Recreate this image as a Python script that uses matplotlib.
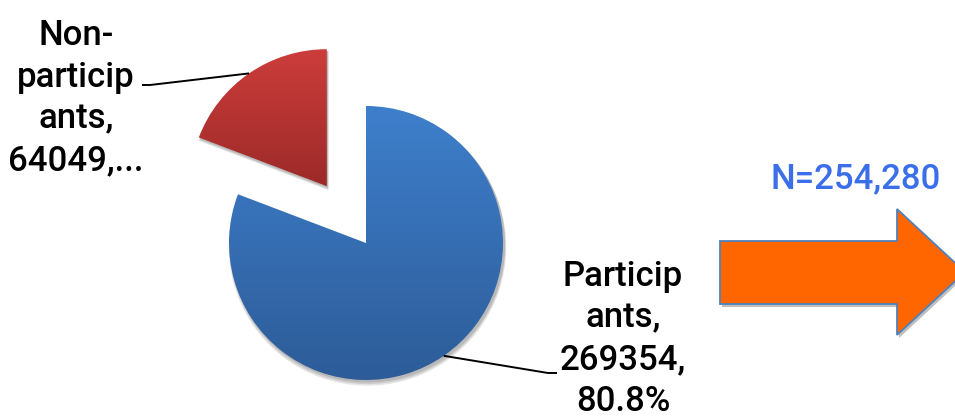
import numpy as np
import matplotlib
matplotlib.use("Agg")
import matplotlib.pyplot as plt
from matplotlib.colors import LinearSegmentedColormap
from matplotlib.patches import Polygon, Wedge

# --- data ---------------------------------------------------------------
categories = ["Non-participants", "Participants"]
counts = [64049, 269354]
total_label = "N=254,280"

total = sum(counts)
pcts = [100.0 * c / total for c in counts]

# Wrapped data labels (word-wrapped the way the chart tool breaks them)
label_texts = [
    "Non-\nparticip\nants,\n{:d},...".format(counts[0]),
    "Particip\nants,\n{:d},\n{:.1f}%".format(counts[1], pcts[1]),
]

# --- styling --------------------------------------------------------------
W, H = 955, 419
font = ["Roboto", "DejaVu Sans"]
grad_colors = [("#9c2a28", "#cc3d3b"), ("#2d5c98", "#3e7fcc")]

fig = plt.figure(figsize=(W / 100, H / 100), dpi=100)
ax = fig.add_axes([0, 0, 1, 1])

center = (366, 176)
radius = 137
wedges, _ = ax.pie(counts, startangle=90, counterclock=True, radius=radius,
                   center=center, explode=[69, 0],
                   wedgeprops=dict(linewidth=0))

for w, (dark, light) in zip(wedges, grad_colors):
    cx, cy = w.center
    # soft drop shadow
    for k, a in enumerate([0.10, 0.10, 0.10]):
        sh = Wedge((cx + 1.5, cy - 2 - k), w.r + 0.5 + k * 0.6, w.theta1, w.theta2,
                   facecolor="#000000", alpha=a, linewidth=0, zorder=0.5)
        ax.add_patch(sh)
    w.set_facecolor("none")
    w.set_zorder(2)
    ext = w.get_path().get_extents()
    cmap = LinearSegmentedColormap.from_list("g", [dark, light])
    grad = np.linspace(0, 1, 256).reshape(-1, 1)
    im = ax.imshow(grad, extent=[ext.x0, ext.x1, ext.y0, ext.y1], origin="lower",
                   cmap=cmap, aspect="auto", zorder=1.5, interpolation="bilinear")
    im.set_clip_path(w)

# leader lines from the wedge mid-angles to the labels
label_pos = [(76, 321), (623, 80)]
line_ends = [[(150, 334), (142, 334)], [(548, 46), (557, 46)]]
for w, (tx, ty), ends, txt in zip(wedges, label_pos, line_ends, label_texts):
    thm = np.deg2rad(0.5 * (w.theta1 + w.theta2))
    px = w.center[0] + w.r * np.cos(thm)
    py = w.center[1] + w.r * np.sin(thm)
    xs = [px] + [e[0] for e in ends]
    ys = [py] + [e[1] for e in ends]
    ax.plot(xs, ys, color="#000000", lw=1.4, zorder=3, solid_capstyle="butt")
    ax.text(tx, ty, txt, ha="center", va="center", fontsize=25,
            family=font, fontweight="medium", color="#000000",
            linespacing=1.33, zorder=4)

# total count and arrow
ax.text(856, 231, total_label, ha="center", va="baseline", fontsize=25,
        fontweight="medium", family=font, color="#3b6fea", zorder=4)

arrow_pts = np.array([(720, 241), (897, 241), (897, 209), (965, 272),
                      (897, 335), (897, 304), (720, 304)], dtype=float)
arrow_pts[:, 1] = H - arrow_pts[:, 1]
shadow = Polygon(arrow_pts + np.array([2, -3]), closed=True, facecolor="#000000",
                 alpha=0.25, linewidth=0, zorder=2.5)
ax.add_patch(shadow)
arrow = Polygon(arrow_pts, closed=True, facecolor="#ff6600", edgecolor="#4f81bd",
                linewidth=1.3, zorder=3)
ax.add_patch(arrow)

ax.set_xlim(0, W)
ax.set_ylim(0, H)
ax.set_aspect("auto")
ax.axis("off")

fig.savefig("out.png", dpi=100, facecolor="white")
